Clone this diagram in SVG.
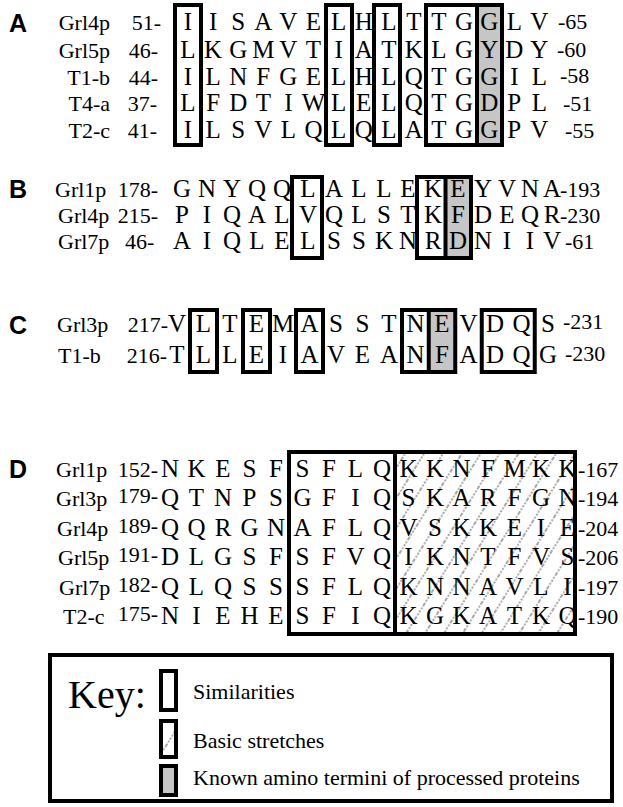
<svg xmlns="http://www.w3.org/2000/svg" width="623" height="807" viewBox="0 0 623 807">
<style>
.seq{font-family:"Liberation Serif","Times New Roman",serif;font-size:25px;text-anchor:middle;fill:#000}
.nm{font-family:"Liberation Serif","Times New Roman",serif;font-size:22px;fill:#000}
.ne{font-family:"Liberation Serif","Times New Roman",serif;font-size:22px;fill:#000;text-anchor:end}
.lab{font-family:"Liberation Sans",Arial,sans-serif;font-weight:bold;font-size:25px;fill:#000}
.box{fill:none;stroke:#000;stroke-width:4}
.sh{fill:#c6c6c6}
.key{font-family:"Liberation Serif","Times New Roman",serif;fill:#000}
</style>
<defs>
<pattern id="hatch" patternUnits="userSpaceOnUse" width="16" height="16" patternTransform="rotate(32)">
<line x1="8" y1="0" x2="8" y2="16" stroke="#8c8c8c" stroke-width="1.5" stroke-dasharray="2 1.5"/>
</pattern>
</defs>
<rect width="623" height="807" fill="#fff"/>

<g id="panelA">
<rect class="sh" x="477" y="5" width="25" height="140"/>
<rect class="box" x="175" y="5" width="26" height="140"/>
<rect class="box" x="326" y="5" width="26" height="140"/>
<rect class="box" x="374" y="5" width="26" height="140"/>
<rect class="box" x="426" y="5" width="76" height="140"/>
<line x1="477" y1="5" x2="477" y2="145" stroke="#000" stroke-width="4"/>
<text class="lab" x="9" y="32">A</text>
<text class="ne" x="110" y="30">Grl4p</text><text class="ne" x="161" y="30">51-</text>
<text class="ne" x="110" y="58">Grl5p</text><text class="ne" x="158" y="58">46-</text>
<text class="ne" x="110" y="85">T1-b</text><text class="ne" x="158" y="85">44-</text>
<text class="ne" x="110" y="111">T4-a</text><text class="ne" x="157" y="111">37-</text>
<text class="ne" x="110" y="138">T2-c</text><text class="ne" x="157" y="138">41-</text>
<text class="seq" x="188 200.6 213.1 225.7 238.2 250.8 263.3 275.9 288.4 301 313.5 326.1 338.6 351.2 363.7 376.3 388.8 401.4 413.9 426.5 439 451.6 464.1 476.7 489.2 501.8 514.3 526.9 539.4" y="30">I I S A V E L H L T T G G L V</text>
<text class="seq" x="188 200.6 213.1 225.7 238.2 250.8 263.3 275.9 288.4 301 313.5 326.1 338.6 351.2 363.7 376.3 388.8 401.4 413.9 426.5 439 451.6 464.1 476.7 489.2 501.8 514.3 526.9 539.4" y="58">L K G M V T I A T K L G Y D Y</text>
<text class="seq" x="188 200.6 213.1 225.7 238.2 250.8 263.3 275.9 288.4 301 313.5 326.1 338.6 351.2 363.7 376.3 388.8 401.4 413.9 426.5 439 451.6 464.1 476.7 489.2 501.8 514.3 526.9 539.4" y="85">I L N F G E L H L Q T G G I L</text>
<text class="seq" x="188 200.6 213.1 225.7 238.2 250.8 263.3 275.9 288.4 301 313.5 326.1 338.6 351.2 363.7 376.3 388.8 401.4 413.9 426.5 439 451.6 464.1 476.7 489.2 501.8 514.3 526.9 539.4" y="111">L F D T I W L E L Q T G D P L</text>
<text class="seq" x="188 200.6 213.1 225.7 238.2 250.8 263.3 275.9 288.4 301 313.5 326.1 338.6 351.2 363.7 376.3 388.8 401.4 413.9 426.5 439 451.6 464.1 476.7 489.2 501.8 514.3 526.9 539.4" y="138">I L S V L Q L Q L A T G G P V</text>
<text class="nm" x="558" y="29">-65</text>
<text class="nm" x="557" y="57">-60</text>
<text class="nm" x="560" y="83">-58</text>
<text class="nm" x="563" y="111">-51</text>
<text class="nm" x="565" y="138">-55</text>
</g>

<g id="panelB">
<rect class="sh" x="445.5" y="177" width="25.5" height="81"/>
<rect class="box" x="292" y="177" width="30" height="81"/>
<rect class="box" x="417" y="177" width="54" height="81"/>
<line x1="445.5" y1="177" x2="445.5" y2="258" stroke="#000" stroke-width="4"/>
<text class="lab" x="9" y="198">B</text>
<text class="nm" x="55" y="197">Grl1p</text><text class="ne" x="158" y="197">178-</text>
<text class="nm" x="58" y="223">Grl4p</text><text class="ne" x="158" y="223">215-</text>
<text class="nm" x="58" y="249">Grl7p</text><text class="nm" x="125" y="249">46-</text>
<text class="seq" x="182 194.5 207 219.5 232 244.5 257 269.5 282 295 308 321 334 346.5 359 371.5 384 396 408 420.5 433 445.5 458 470.5 483 495 507 518.5 530 541 552" y="197">G N Y Q Q L A L L E K E Y V N A</text>
<text class="seq" x="182 194.5 207 219.5 232 244.5 257 269.5 282 295 308 321 334 346.5 359 371.5 384 396 408 420.5 433 445.5 458 470.5 483 495 507 518.5 530 541 552" y="223">P I Q A L V Q L S T K F D E Q R</text>
<text class="seq" x="182 194.5 207 219.5 232 244.5 257 269.5 282 295 308 321 334 346.5 359 371.5 384 396 408 420.5 433 445.5 458 470.5 483 495 507 518.5 530 541 552" y="249">A I Q L E L S S K N R D N I I V</text>
<text class="nm" x="560" y="197">-193</text>
<text class="nm" x="560" y="223">-230</text>
<text class="nm" x="565" y="249">-61</text>
</g>

<g id="panelC">
<rect class="sh" x="428.75" y="310" width="26.5" height="62"/>
<rect class="box" x="190" y="310" width="27" height="62"/>
<rect class="box" x="243" y="310" width="27" height="62"/>
<rect class="box" x="296" y="310" width="27" height="62"/>
<rect class="box" x="402" y="310" width="53.25" height="62"/>
<line x1="428.75" y1="310" x2="428.75" y2="372" stroke="#000" stroke-width="4"/>
<rect class="box" x="481.75" y="310" width="53" height="62"/>
<text class="lab" x="9" y="334">C</text>
<text class="nm" x="57" y="332">Grl3p</text><text class="ne" x="168" y="332">217-</text>
<text class="nm" x="58" y="363">T1-b</text><text class="ne" x="167" y="363">216-</text>
<text class="seq" x="177 190.25 203.5 216.75 230 243.25 256.5 269.75 283 296.25 309.5 322.75 336 349.25 362.5 375.75 389 402.25 415.5 428.75 442 455.25 468.5 481.75 495 508.25 521.5 534.75 548" y="332">V L T E M A S S T N E V D Q S</text>
<text class="seq" x="177 190.25 203.5 216.75 230 243.25 256.5 269.75 283 296.25 309.5 322.75 336 349.25 362.5 375.75 389 402.25 415.5 428.75 442 455.25 468.5 481.75 495 508.25 521.5 534.75 548" y="363">T L L E I A V E A N F A D Q G</text>
<text class="nm" x="563" y="329">-231</text>
<text class="nm" x="565" y="361">-230</text>
</g>

<g id="panelD">
<rect x="395" y="452" width="180" height="182" fill="url(#hatch)"/>
<rect class="box" x="289" y="452" width="106" height="182"/>
<rect class="box" x="395" y="452" width="180" height="182"/>
<text class="lab" x="9" y="478">D</text>
<text class="nm" x="56" y="477">Grl1p</text><text class="ne" x="158" y="477">152-</text>
<text class="nm" x="56" y="506">Grl3p</text><text class="ne" x="158" y="503">179-</text>
<text class="nm" x="57" y="536">Grl4p</text><text class="ne" x="158" y="533">189-</text>
<text class="nm" x="58" y="565">Grl5p</text><text class="ne" x="158" y="562">191-</text>
<text class="nm" x="59" y="595">Grl7p</text><text class="ne" x="158" y="592">182-</text>
<text class="nm" x="63" y="624">T2-c</text><text class="ne" x="158" y="621">175-</text>
<text class="seq" x="170 183.25 196.5 209.75 223 236.25 249.5 262.75 276 289.25 302.5 315.75 329 342.25 355.5 368.75 382 395.25 408.5 421.75 435 448.25 461.5 474.75 488 501.25 514.5 527.75 541 554.25 567.5" y="477">N K E S F S F L Q K K N F M K K</text>
<text class="seq" x="170 183.25 196.5 209.75 223 236.25 249.5 262.75 276 289.25 302.5 315.75 329 342.25 355.5 368.75 382 395.25 408.5 421.75 435 448.25 461.5 474.75 488 501.25 514.5 527.75 541 554.25 567.5" y="506">Q T N P S G F I Q S K A R F G N</text>
<text class="seq" x="170 183.25 196.5 209.75 223 236.25 249.5 262.75 276 289.25 302.5 315.75 329 342.25 355.5 368.75 382 395.25 408.5 421.75 435 448.25 461.5 474.75 488 501.25 514.5 527.75 541 554.25 567.5" y="536">Q Q R G N A F L Q V S K K E I E</text>
<text class="seq" x="170 183.25 196.5 209.75 223 236.25 249.5 262.75 276 289.25 302.5 315.75 329 342.25 355.5 368.75 382 395.25 408.5 421.75 435 448.25 461.5 474.75 488 501.25 514.5 527.75 541 554.25 567.5" y="565">D L G S F S F V Q I K N T F V S</text>
<text class="seq" x="170 183.25 196.5 209.75 223 236.25 249.5 262.75 276 289.25 302.5 315.75 329 342.25 355.5 368.75 382 395.25 408.5 421.75 435 448.25 461.5 474.75 488 501.25 514.5 527.75 541 554.25 567.5" y="595">Q L Q S S S F L Q K N N A V L I</text>
<text class="seq" x="170 183.25 196.5 209.75 223 236.25 249.5 262.75 276 289.25 302.5 315.75 329 342.25 355.5 368.75 382 395.25 408.5 421.75 435 448.25 461.5 474.75 488 501.25 514.5 527.75 541 554.25 567.5" y="624">N I E H E S F I Q K G K A T K Q</text>
<text class="nm" x="578" y="477">-167</text>
<text class="nm" x="578" y="506">-194</text>
<text class="nm" x="578" y="536">-204</text>
<text class="nm" x="578" y="565">-206</text>
<text class="nm" x="578" y="595">-197</text>
<text class="nm" x="578" y="624">-190</text>
</g>

<g id="key">
<rect class="box" x="50" y="655" width="562" height="146" stroke-width="3.5"/>
<text class="key" x="68" y="708" font-size="40">Key:</text>
<rect class="box" x="161" y="671" width="15" height="39" stroke-width="3.5"/>
<text class="key" x="193" y="699" font-size="22">Similarities</text>
<rect x="161" y="721" width="15" height="36" fill="url(#hatch)"/>
<rect class="box" x="161" y="721" width="15" height="36" stroke-width="3.5"/>
<text class="key" x="193" y="748" font-size="22">Basic stretches</text>
<rect class="sh" x="161" y="766" width="15" height="29"/>
<rect class="box" x="161" y="766" width="15" height="29" stroke-width="3.5"/>
<text class="key" x="193" y="785" font-size="22">Known amino termini of processed proteins</text>
</g>
</svg>
